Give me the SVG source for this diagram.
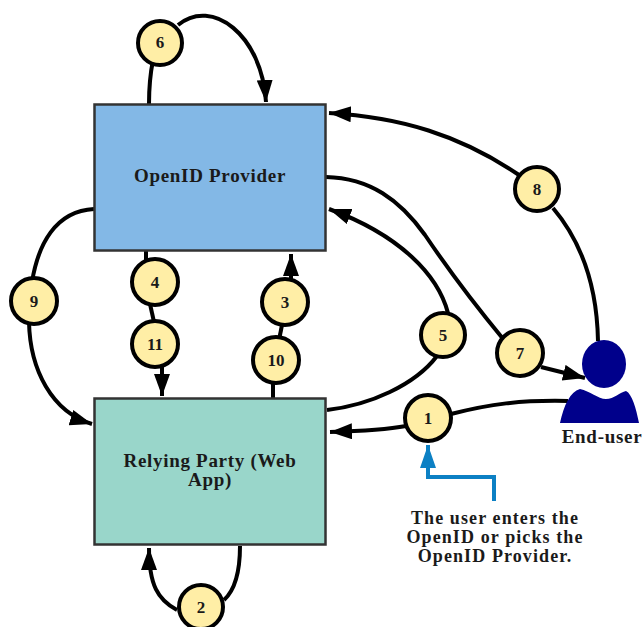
<svg xmlns="http://www.w3.org/2000/svg" width="642" height="627" viewBox="0 0 642 627">
<style>
.c{fill:none;stroke:#000;stroke-width:4}
.n{fill:#ffeea6;stroke:#000;stroke-width:4}
.b{stroke:#333;stroke-width:2.5}
text{font-family:"Liberation Serif",serif;font-weight:bold;fill:#1a1a1a;text-anchor:middle}
.t{font-size:19px;letter-spacing:.7px}
.m{font-size:18px;letter-spacing:1.1px}
.s{font-size:17px}
</style>
<defs>
<marker id="a" markerUnits="userSpaceOnUse" markerWidth="24" markerHeight="18" refX="22" refY="8" orient="auto"><path d="M0 0L22 8L0 16Z" fill="#000"/></marker>
<marker id="u" markerUnits="userSpaceOnUse" markerWidth="26" markerHeight="18" refX="23" refY="8" orient="auto"><path d="M0 0L23 8L0 16Z" fill="#0c80c4"/></marker>
</defs>
<rect width="642" height="627" fill="#fff"/>
<g id="connectors">
<path class="c" d="M149 104C149 85 150 75 153 60"/>
<path class="c" d="M178 25C212 -3 262 35 266 102" marker-end="url(#a)"/>
<path class="c" d="M94 209C55 211 38 245 32 282"/>
<path class="c" d="M29 322C30 370 52 412 92 424" marker-end="url(#a)"/>
<path class="c" d="M146 251V262"/>
<path class="c" d="M150 304L154 322"/>
<path class="c" d="M162 366V396" marker-end="url(#a)"/>
<path class="c" d="M273 398V383"/>
<path class="c" d="M282 325L279 340"/>
<path class="c" d="M291 280V254" marker-end="url(#a)"/>
<path class="c" d="M327 410C370 405 415 385 437 356"/>
<path class="c" d="M448 313C438 275 400 235 329 209" marker-end="url(#a)"/>
<path class="c" d="M326 177C370 178 400 200 425 235C450 272 475 305 504 340"/>
<path class="c" d="M541 367L585 378" marker-end="url(#a)"/>
<path class="c" d="M598 341C597 285 580 240 553 208"/>
<path class="c" d="M519 175C460 135 400 117 329 113" marker-end="url(#a)"/>
<path class="c" d="M568 401C520 400 490 404 451 414"/>
<path class="c" d="M406 426C385 430 365 431 330 432" marker-end="url(#a)"/>
<path class="c" d="M240 546C240 570 235 590 224 600"/>
<path class="c" d="M177 610C158 600 149 585 149 548" marker-end="url(#a)"/>
<path d="M494 501V477H428V445" fill="none" stroke="#0c80c4" stroke-width="4" marker-end="url(#u)"/>
</g>
<g id="provider"><rect class="b" x="94.500" y="104.500" width="231" height="146" fill="#83b8e6"/><text class="t" x="210" y="182">OpenID Provider</text></g>
<g id="relying-party"><rect class="b" x="94.500" y="398.500" width="231" height="146" fill="#99d6ca"/><text class="t" x="210" y="467">Relying Party (Web</text><text class="t" x="210" y="486">App)</text></g>
<g id="step-6"><circle class="n" cx="160" cy="43" r="22"/><text class="s" x="160" y="48">6</text></g>
<g id="step-4"><circle class="n" cx="155" cy="282" r="23"/><text class="s" x="155" y="288">4</text></g>
<g id="step-9"><circle class="n" cx="34" cy="301" r="23"/><text class="s" x="34" y="307">9</text></g>
<g id="step-11"><circle class="n" cx="155" cy="344" r="23"/><text class="s" x="155" y="350">11</text></g>
<g id="step-3"><circle class="n" cx="285" cy="302" r="23"/><text class="s" x="285" y="308">3</text></g>
<g id="step-10"><circle class="n" cx="276" cy="360" r="23"/><text class="s" x="276" y="366">10</text></g>
<g id="step-5"><circle class="n" cx="443" cy="335" r="22"/><text class="s" x="443" y="341">5</text></g>
<g id="step-7"><circle class="n" cx="520" cy="353" r="23"/><text class="s" x="520" y="359">7</text></g>
<g id="step-8"><circle class="n" cx="537" cy="189" r="22"/><text class="s" x="537" y="195">8</text></g>
<g id="step-1"><circle class="n" cx="428" cy="418" r="23"/><text class="s" x="428" y="424">1</text></g>
<g id="step-2"><circle class="n" cx="201" cy="607" r="22"/><text class="s" x="201" y="613">2</text></g>
<g id="end-user">
<ellipse cx="604" cy="364" rx="22" ry="24" fill="#00008b"/>
<path d="M560 423C564 405 570 392 580 389C590 391 598 399 606 399C614 399 620 392 626 391C632 394 636 408 639 423Z" fill="#00008b"/>
<text class="t" x="602" y="443">End-user</text>
</g>
<g id="note"><text class="m" x="495" y="524">The user enters the</text><text class="m" x="495" y="543">OpenID or picks the</text><text class="m" x="495" y="562">OpenID Provider.</text></g>
</svg>
